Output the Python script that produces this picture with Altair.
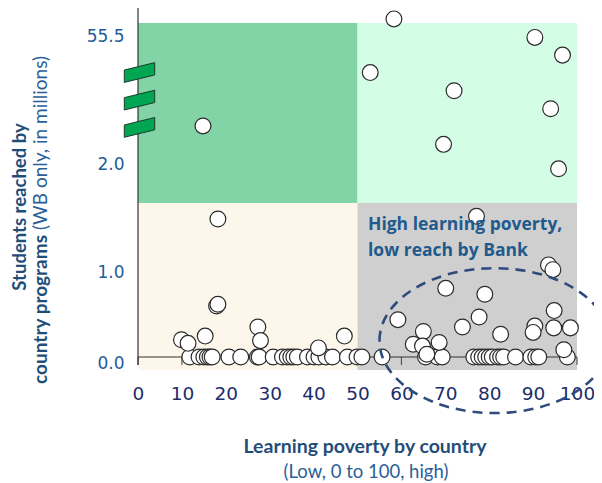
import altair as alt
import pandas as pd

# ---------------- data ----------------
learning_poverty = [
    # on the baseline, low learning poverty side
    11.8, 13.9, 15.0, 15.8, 16.4, 16.9, 20.7, 23.4, 27.2, 27.6, 30.8, 32.9, 34.0, 34.8,
    35.5, 36.3, 38.6, 40.1, 41.2, 42.8, 44.3, 47.7, 49.9, 51.0,
    # on the baseline, high learning poverty side
    55.6, 65.5, 68.2, 69.3, 76.5, 77.6, 78.4, 79.2, 80.0, 80.7, 81.9, 82.6, 83.3, 86.0,
    89.5, 90.6, 91.3, 97.8,
    # slightly raised, low side
    18.2, 17.9, 18.2, 27.3, 27.9, 15.3, 9.9, 11.4, 47.0, 41.1,
    # slightly raised, high side
    93.5, 94.5, 70.1, 79.0, 94.8, 77.7, 59.2, 73.9, 90.4, 90.0, 94.7, 98.5, 65.0, 82.6,
    68.6, 62.7, 64.8, 65.8, 97.0,
    # upper part
    58.3, 90.4, 96.7, 52.9, 72.0, 94.0, 69.6, 95.8, 14.8, 77.1,
]
students_reached = [
    0, 0, 0, 0, 0, 0, 0, 0, 0, 0, 0, 0, 0, 0,
    0, 0, 0, 0, 0, 0, 0, 0, 0, 0,
    0, 0, 0, 0, 0, 0, 0, 0, 0, 0, 0, 0, 0, 0,
    0, 0, 0, 0,
    1.435, 0.56, 0.58, 0.33, 0.18, 0.23, 0.19, 0.15, 0.23, 0.10,
    1.01, 0.96, 0.755, 0.69, 0.51, 0.44, 0.41, 0.33, 0.34, 0.27, 0.32, 0.32, 0.28, 0.25,
    0.16, 0.14, 0.12, 0.03, 0.08,
    60.1, 52.4, 45.0, 37.7, 30.1, 22.6, 7.7, 1.90, 15.4, 1.46,
]

quad_x0 = [0, 50, 0, 50]
quad_x1 = [50, 100, 50, 100]
quad_y0 = [1.583, 1.583, -0.143, -0.143]
quad_y1 = [58.4, 58.4, 1.583, 1.583]
quad_color = ["#82d3a5", "#d4fde6", "#fdf6ea", "#d0cfd0"]

x_ticks = list(range(0, 101, 10))
y_ticks = [0, 1, 2, 55.5]
y_break_domain = [-0.143, 0, 1, 2, 55.5, 58.4]

annotation = ["High learning poverty,", "low reach by Bank"]
ellipse_center = (81.2, 0.18)

# ---------------- styling ----------------
W, H = 439, 347
y_break_range = [347, 334, 243, 135, 7, 0]
TITLE_FONT = "Lato"
NAVY = "#1f4e79"

points_df = pd.DataFrame({"lp": learning_poverty, "sr": students_reached})
quads_df = pd.DataFrame({"x0": quad_x0, "x1": quad_x1, "y0": quad_y0, "y1": quad_y1, "c": quad_color})
one = pd.DataFrame({"a": [0]})

xscale = alt.Scale(domain=[0, 100], nice=False, zero=False)
yscale = alt.Scale(domain=y_break_domain, range=y_break_range, nice=False, zero=False)

quads = alt.Chart(quads_df).mark_rect().encode(
    x=alt.X("x0:Q", scale=xscale,
            axis=alt.Axis(values=x_ticks, title="", grid=False, domain=False, ticks=False,
                          labelFontSize=18.5, labelFont="DejaVu Sans", labelColor="#1b2d6b",
                          labelPadding=14, labelFlush=False, labelOverlap=False)),
    x2="x1:Q",
    y=alt.Y("y0:Q", scale=yscale,
            axis=alt.Axis(values=y_ticks, format=".1f", title="", grid=False, domain=False,
                          ticks=False, labelFontSize=17, labelFont="DejaVu Sans",
                          labelColor="#1f5c99", labelPadding=14, labelOffset=6,
                          labelFlush=False, labelOverlap=False)),
    y2="y1:Q",
    color=alt.Color("c:N", scale=None),
)

tick_df = pd.DataFrame({"t": x_ticks})
xticks = alt.Chart(tick_df).mark_rule(color="#404040", strokeWidth=1).encode(
    x="t:Q", y=alt.datum(0), y2=alt.value(342)
)

xline = alt.Chart(pd.DataFrame({"a": [0], "b": [100], "z": [0]})).mark_rule(
    color="#333333", strokeWidth=1.2
).encode(x="a:Q", x2="b:Q", y="z:Q")

yline = alt.Chart(one).mark_rule(color="#333333", strokeWidth=1.2).encode(
    x=alt.value(0), y=alt.value(-16), y2=alt.value(342)
)

pts = alt.Chart(points_df).mark_point(
    filled=True, fill="white", stroke="#2b2b2b", strokeWidth=1.2, size=250, opacity=1
).encode(x="lp:Q", y="sr:Q")

break_path = "M -1 -0.16 L 1 -0.65 L 1 0.16 L -1 0.65 Z"
breaks = [
    alt.Chart(one).mark_point(shape=break_path, size=924, filled=True, fill="#00a651",
                              stroke="#1e3a2a", strokeWidth=1, opacity=1).encode(
        x=alt.value(1.5), y=alt.value(yy))
    for yy in [49.5, 77.1, 104.4]
]

note = alt.Chart(one).mark_text(
    text=annotation, align="left", baseline="alphabetic", fontSize=17.5, fontWeight="bold",
    font="Open Sans", color="#1f5a8c", lineHeight=26
).encode(x=alt.value(230), y=alt.value(207))

ellipse_path = "M -1 0 A 1 0.63 0 1 1 1 0 A 1 0.63 0 1 1 -1 0 Z"
ellipse = alt.Chart(one).mark_point(
    shape=ellipse_path, size=52900, filled=False, stroke="#2f4b7c", strokeWidth=2.6,
    strokeDash=[10, 7], opacity=1
).encode(x=alt.datum(ellipse_center[0]), y=alt.datum(ellipse_center[1]))

ytitle1 = alt.Chart(one).mark_text(
    text="Students reached by", angle=270, align="center", baseline="alphabetic",
    fontSize=18.5, fontWeight="bold", font=TITLE_FONT, color=NAVY
).encode(x=alt.value(-112), y=alt.value(184))
ytitle2a = alt.Chart(one).mark_text(
    text="country programs", angle=270, align="right", baseline="alphabetic",
    fontSize=19, fontWeight="bold", font=TITLE_FONT, color=NAVY
).encode(x=alt.value(-91), y=alt.value(212))
ytitle2b = alt.Chart(one).mark_text(
    text="(WB only, in millions)", angle=270, align="left", baseline="alphabetic",
    fontSize=19, font=TITLE_FONT, color="#2a6099"
).encode(x=alt.value(-91), y=alt.value(207))

xtitle1 = alt.Chart(one).mark_text(
    text="Learning poverty by country", align="center", baseline="middle",
    fontSize=19.5, fontWeight="bold", font=TITLE_FONT, color=NAVY
).encode(x=alt.value(227), y=alt.value(424))
xtitle2 = alt.Chart(one).mark_text(
    text="(Low, 0 to 100, high)", align="center", baseline="middle",
    fontSize=18.5, font=TITLE_FONT, color="#2a6099"
).encode(x=alt.value(228), y=alt.value(449))

chart = alt.layer(
    quads, xticks, xline, yline, pts, *breaks, note, ellipse,
    ytitle1, ytitle2a, ytitle2b, xtitle1, xtitle2
).properties(
    width=W, height=H,
    padding={"left": 130, "top": 15, "right": 17, "bottom": 113},
    autosize=alt.AutoSizeParams(type="none"),
).configure_view(strokeWidth=0)

chart.save("out.html", embed_options={"renderer": "svg", "actions": False})
